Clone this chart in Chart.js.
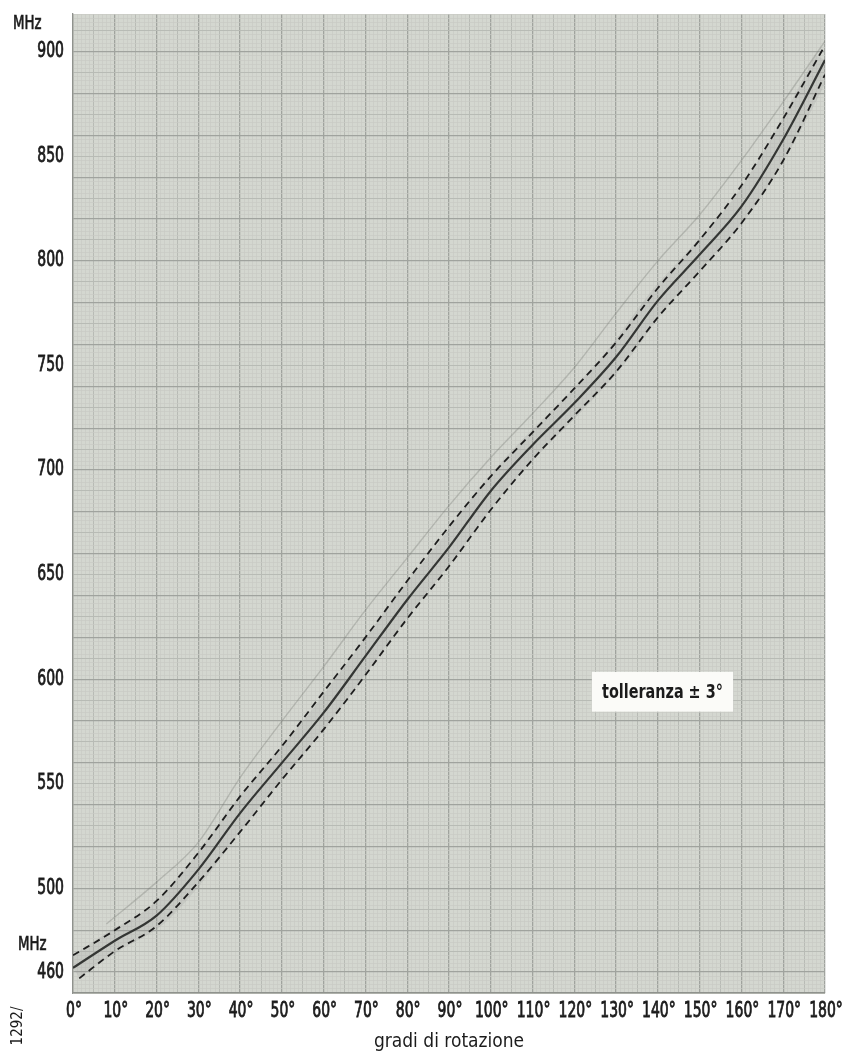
<!DOCTYPE html>
<html>
<head>
<meta charset="utf-8">
<script src="https://cdn.jsdelivr.net/npm/chart.js@4"></script>
<style>
  html, body { margin: 0; padding: 0; background: #ffffff; }
  #wrap { width: 847px; height: 1062px; }
</style>
</head>
<body>
<div id="wrap"><canvas id="c" width="847" height="1062"></canvas></div>
<script>
// ---- data ----
const degrees        = [0, 10, 20, 30, 40, 50, 60, 70, 80, 90, 100, 110, 120, 130, 140, 150, 160, 170, 180];
const mainCurve      = [462, 475, 487, 509, 536, 560, 584, 611, 638, 663, 690, 712, 732, 754, 781, 803, 826, 858, 896];
const upperTolerance = [468, 480, 494, 517, 544, 568, 594, 620, 647, 673, 697, 718, 739, 761, 787, 810, 836, 868, 903];
const lowerDegrees   = [1.5, 10, 20, 30, 40, 50, 60, 70, 80, 90, 100, 110, 120, 130, 140, 150, 160, 170, 180];
const lowerTolerance = [457, 470, 482, 503, 527, 552, 576, 602, 629, 654, 681, 705, 726, 747, 773, 795, 818, 848, 889];
const faintDegrees   = [8, 20, 30, 40, 50, 60, 70, 80, 90, 100, 110, 120, 130, 140, 150, 160, 170, 180];
const faintLine      = [483, 503, 522, 553, 580, 606, 633, 658, 683, 706, 727, 749, 775, 800, 822, 848, 876, 905];
const xTickLabels    = [0, 10, 20, 30, 40, 50, 60, 70, 80, 90, 100, 110, 120, 130, 140, 150, 160, 170, 180];
const yTickLabels    = [460, 500, 550, 600, 650, 700, 750, 800, 850, 900];
const xTitle         = 'gradi di rotazione';
const unitLabel      = 'MHz';
const noteText       = 'tolleranza \u00B1 3\u00B0';
const codeText       = '1292/';

const pts = (xs, ys) => xs.map((x, i) => ({ x: x, y: ys[i] }));

const FONT = "'DejaVu Sans Condensed', 'DejaVu Sans', sans-serif";
const INK = '#1b1b1b';
const SQUEEZE = 0.74;

function narrowText(ctx, text, x, y, align, sx, stroke) {
  ctx.save();
  ctx.translate(x, y);
  ctx.scale(sx, 1);
  ctx.textAlign = align;
  ctx.fillText(text, 0, 0);
  if (stroke) {
    ctx.strokeStyle = ctx.fillStyle;
    ctx.lineWidth = stroke;
    ctx.strokeText(text, 0, 0);
  }
  ctx.restore();
}

const paperPlugin = {
  id: 'paper',
  beforeDraw(chart) {
    const { ctx, chartArea: a } = chart;
    ctx.save();
    ctx.fillStyle = '#d4d7d0';
    ctx.fillRect(a.left, a.top, a.right - a.left, a.bottom - a.top);
    ctx.restore();
  }
};

const textPlugin = {
  id: 'texts',
  afterDraw(chart) {
    const { ctx } = chart;
    const xs = chart.scales.x, ys = chart.scales.y;
    ctx.save();
    ctx.fillStyle = INK;
    ctx.textBaseline = 'middle';
    ctx.font = '21px ' + FONT;
    // axis tick labels, positioned by the library scales
    xTickLabels.forEach(v => narrowText(ctx, v + '\u00B0', xs.getPixelForValue(v) + 1, 1012, 'center', SQUEEZE, 0.8));
    yTickLabels.forEach(v => narrowText(ctx, String(v), 64, ys.getPixelForValue(v), 'right', SQUEEZE, 0.8));
    // unit labels
    ctx.font = '20px ' + FONT;
    narrowText(ctx, unitLabel, 13, 24, 'left', SQUEEZE, 0.7);
    narrowText(ctx, unitLabel, 18, 945, 'left', SQUEEZE, 0.7);
    // rotated code
    ctx.save();
    ctx.translate(18, 1026);
    ctx.rotate(-Math.PI / 2);
    ctx.font = '15px ' + FONT;
    ctx.textAlign = 'center';
    ctx.fillText(codeText, 0, 0);
    ctx.restore();
    // tolerance note
    const l = xs.getPixelForValue(124.2), r = xs.getPixelForValue(158);
    const t = ys.getPixelForValue(603.5), b = ys.getPixelForValue(584.5);
    ctx.fillStyle = '#fbfbf8';
    ctx.fillRect(l, t, r - l, b - t);
    ctx.fillStyle = INK;
    ctx.font = 'bold 20px ' + FONT;
    narrowText(ctx, noteText, (l + r) / 2, (t + b) / 2 + 1, 'center', 0.8, 0);
    ctx.restore();
  }
};

function level(v, big, mid) {
  if (v % big === 0) return 2;
  if (v % mid === 0) return 1;
  return 0;
}
const GRID_COLORS = ['#c8cac4', '#b8bbb5', '#a0a39e'];
const GRID_WIDTHS = [0.7, 1, 1.3];

new Chart(document.getElementById('c'), {
  type: 'line',
  data: {
    datasets: [
      { label: 'curva', data: pts(degrees, mainCurve), borderColor: '#343634', borderWidth: 2.2,
        pointRadius: 0, cubicInterpolationMode: 'monotone', order: 1 },
      { label: '+3°', data: pts(degrees, upperTolerance), borderColor: '#1e1e1e', borderWidth: 1.8,
        borderDash: [7, 5], pointRadius: 0, cubicInterpolationMode: 'monotone', order: 2 },
      { label: '-3°', data: pts(lowerDegrees, lowerTolerance), borderColor: '#1e1e1e', borderWidth: 1.8,
        borderDash: [7, 5], pointRadius: 0, cubicInterpolationMode: 'monotone', order: 3 },
      { label: 'traccia', data: pts(faintDegrees, faintLine), borderColor: 'rgba(120,122,118,0.35)', borderWidth: 1.4,
        pointRadius: 0, cubicInterpolationMode: 'monotone', order: 4 },
      { label: 'alone', data: pts(degrees, mainCurve), borderColor: 'rgba(150,152,148,0.2)', borderWidth: 22,
        pointRadius: 0, cubicInterpolationMode: 'monotone', order: 5 }
    ]
  },
  options: {
    responsive: false,
    animation: false,
    devicePixelRatio: 1,
    layout: { padding: { left: 0, right: 22, top: 14, bottom: 0 } },
    plugins: { legend: { display: false }, tooltip: { enabled: false } },
    scales: {
      x: {
        type: 'linear', min: 0, max: 180,
        afterFit(s) { s.height = 69; },
        border: { display: true, color: '#8f928d', width: 1.3 },
        grid: {
          drawTicks: false,
          color: c => GRID_COLORS[level(Math.round(c.tick ? c.tick.value : 0), 10, 5)],
          lineWidth: c => GRID_WIDTHS[level(Math.round(c.tick ? c.tick.value : 0), 10, 5)]
        },
        ticks: { stepSize: 1, autoSkip: false, display: false },
        title: { display: true, text: xTitle, color: INK, font: { family: FONT, size: 19 }, padding: { top: 2, bottom: 9 } }
      },
      y: {
        type: 'linear', min: 450, max: 918,
        afterFit(s) { s.width = 73; },
        border: { display: true, color: '#8f928d', width: 1.3 },
        grid: {
          drawTicks: false,
          color: c => GRID_COLORS[level(Math.round(c.tick ? c.tick.value : 0), 20, 10)],
          lineWidth: c => GRID_WIDTHS[level(Math.round(c.tick ? c.tick.value : 0), 20, 10)]
        },
        ticks: { stepSize: 2, autoSkip: false, display: false }
      }
    }
  },
  plugins: [paperPlugin, textPlugin]
});
</script>
</body>
</html>
